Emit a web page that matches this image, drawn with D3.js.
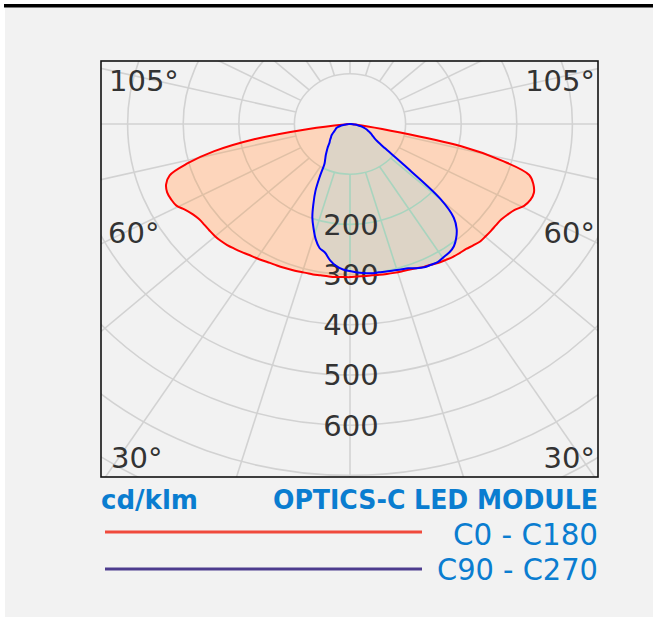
<!DOCTYPE html>
<html>
<head>
<meta charset="utf-8">
<script src="https://cdn.jsdelivr.net/npm/d3@7"></script>
<style>
  body { margin: 0; background: #fff; }
  svg { display: block; }
</style>
</head>
<body>
<div id="chart"></div>
<script>
// gamma angles (deg from nadir) and intensities in cd/klm
var gammas = [0, 2.5, 5, 7.5, 10, 12.5, 15, 17.5, 20, 22.5, 25, 27.5, 30, 32.5, 35, 37.5, 40, 42.5, 45,
              47.5, 50, 52.5, 55, 57.5, 60, 62.5, 65, 67.5, 70, 72.5, 75, 77.5, 80, 82.5, 85, 87.5, 90];
var c0 = [305, 304, 304, 304, 305, 306, 307, 308, 309, 311, 314, 316, 319, 321, 323, 324, 325, 328, 331,
          331, 331, 331, 332, 336, 342, 353, 358, 358, 351, 338, 284, 205, 0, 0, 0, 0, 0];
var c180 = [305, 305, 306, 306, 306, 307, 307, 308, 309, 310, 311, 312, 314, 316, 318, 321, 324, 327, 329,
            330, 330, 330, 331, 335, 342, 352, 355, 356, 352, 340, 302, 250, 175, 75, 10, 0, 0];
var c90 = [294, 296, 298, 300, 300, 301, 302, 304, 306, 311, 315, 316, 317, 314, 312, 307, 297, 284, 264,
           220, 125, 78, 60, 52, 47, 43, 39, 35, 32, 28, 24, 19, 14, 9, 5, 2, 0];
var c270 = [293, 290, 284, 274, 260, 253, 238, 218, 198, 172, 147, 117, 92, 83, 76, 69, 63, 57, 52,
            49, 46, 43, 41, 38, 35, 32, 30, 28, 27, 25, 22, 18, 14, 10, 5, 2, 0];

var ringValues = [100, 200, 300, 400, 500, 600, 700, 800, 900, 1000];
var ringLabels = [200, 300, 400, 500, 600];
var spokeAngles = d3.range(0, 360, 15);

var width = 653, height = 618;
var box = {left: 101, top: 61, right: 598, bottom: 477};
var cx = 350, cy = 124;
var spokeStretch = 1.2; // spokes in the original are spread a bit wider than the rings

// the diagram is a bit wider than tall, so two radius scales
var rX = d3.scaleLinear().domain([0, 100]).range([0, 55.6]),
    rY = d3.scaleLinear().domain([0, 100]).range([0, 50.2]);

function pos(g, r, side) {
    var a = g * Math.PI / 180;
    return [cx + side * rX(r) * Math.sin(a), cy + rY(r) * Math.cos(a)];
}

function spokePoint(g, scale) {
    var a = g * Math.PI / 180,
        dx = spokeStretch * Math.sin(a), dy = Math.cos(a);
    var t = 1 / Math.sqrt(Math.pow(dx / rX(100), 2) + Math.pow(dy / rY(100), 2));
    return [cx + dx * t * scale, cy + dy * t * scale];
}

function buildPoints(left, right) {
    var pts = [];
    for (var i = gammas.length - 1; i >= 0; i--) pts.push(pos(gammas[i], left[i], -1));
    for (var j = 1; j < gammas.length; j++) pts.push(pos(gammas[j], right[j], 1));
    var out = [];
    pts.forEach(p => {
        var last = out[out.length - 1];
        if (!last || Math.abs(last[0] - p[0]) > 0.01 || Math.abs(last[1] - p[1]) > 0.01) out.push(p);
    });
    var f = out[0], l = out[out.length - 1];
    if (Math.abs(f[0] - l[0]) < 0.01 && Math.abs(f[1] - l[1]) < 0.01) out.pop();
    return out;
}

var curve = d3.line().curve(d3.curveCatmullRomClosed.alpha(0.5));
var redPts = buildPoints(c180, c0),
    bluePts = buildPoints(c270, c90);

var svg = d3.select("#chart").append("svg").attr("width", width).attr("height", height);

svg.append("rect").attr("x", 5).attr("y", 7).attr("width", 648).attr("height", 610).attr("fill", "#f2f2f2");
svg.append("rect").attr("x", 4).attr("y", 4).attr("width", 649).attr("height", 3.5).attr("fill", "#000");

var defs = svg.append("defs");
defs.append("clipPath").attr("id", "boxClip").append("rect")
    .attr("x", box.left).attr("y", box.top)
    .attr("width", box.right - box.left).attr("height", box.bottom - box.top);
defs.append("clipPath").attr("id", "redClip").append("path").attr("d", curve(redPts));
defs.append("clipPath").attr("id", "blueClip").append("path").attr("d", curve(bluePts));

var plot = svg.append("g").attr("clip-path", "url(#boxClip)");

function drawGrid(g, color) {
    g.selectAll(".ring").data(ringValues).enter().append("ellipse")
        .attr("class", "ring")
        .attr("cx", cx).attr("cy", cy)
        .attr("rx", d => rX(d)).attr("ry", d => rY(d))
        .attr("fill", "none").attr("stroke", color).attr("stroke-width", 1.6);
    g.selectAll(".spoke").data(spokeAngles).enter().append("line")
        .attr("class", "spoke")
        .attr("x1", d => spokePoint(d, 1)[0]).attr("y1", d => spokePoint(d, 1)[1])
        .attr("x2", d => spokePoint(d, 14)[0]).attr("y2", d => spokePoint(d, 14)[1])
        .attr("stroke", color).attr("stroke-width", 1.6);
}

drawGrid(plot.append("g"), "#d2d2d2");

plot.append("path").attr("d", curve(redPts)).attr("fill", "#fdd5bb");
drawGrid(plot.append("g").attr("clip-path", "url(#redClip)"), "#e0c0a6");

plot.append("path").attr("d", curve(bluePts)).attr("fill", "#ddd4c6");
drawGrid(plot.append("g").attr("clip-path", "url(#blueClip)"), "#a8d4be");

// intensity labels on the nadir axis
plot.selectAll(".ringLabel").data(ringLabels).enter().append("text")
    .attr("class", "ringLabel")
    .attr("x", cx + 1).attr("y", d => cy + rY(d))
    .attr("dy", "0.36em")
    .attr("text-anchor", "middle")
    .style("font-family", "DejaVu Sans").style("font-size", "29px").style("fill", "#333")
    .text(d => d);

plot.append("path").attr("d", curve(redPts))
    .attr("fill", "none").attr("stroke", "#ff0000").attr("stroke-width", 2);
plot.append("path").attr("d", curve(bluePts))
    .attr("fill", "none").attr("stroke", "#0000ff").attr("stroke-width", 2);

// angle labels
var angleLabels = [
    {t: "105°", x: box.left + 8, y: 91, a: "start"},
    {t: "105°", x: box.right - 3, y: 91, a: "end"},
    {t: "60°", x: box.left + 7, y: 243, a: "start"},
    {t: "60°", x: box.right - 3, y: 243, a: "end"},
    {t: "30°", x: box.left + 10, y: 468, a: "start"},
    {t: "30°", x: box.right - 3, y: 468, a: "end"}
];
svg.selectAll(".angleLabel").data(angleLabels).enter().append("text")
    .attr("class", "angleLabel")
    .attr("x", d => d.x).attr("y", d => d.y)
    .attr("text-anchor", d => d.a)
    .style("font-family", "DejaVu Sans").style("font-size", "29px").style("fill", "#333")
    .text(d => d.t);

svg.append("rect")
    .attr("x", box.left).attr("y", box.top)
    .attr("width", box.right - box.left).attr("height", box.bottom - box.top)
    .attr("fill", "none").attr("stroke", "#111").attr("stroke-width", 1.6);

// legend
var blue = "#0a7dd0";
svg.append("text").attr("x", 101).attr("y", 509)
    .attr("textLength", 97).attr("lengthAdjust", "spacingAndGlyphs")
    .style("font-family", "DejaVu Sans").style("font-weight", "bold").style("font-size", "26px")
    .style("fill", blue).text("cd/klm");
svg.append("text").attr("x", 273).attr("y", 509)
    .attr("textLength", 325).attr("lengthAdjust", "spacingAndGlyphs")
    .style("font-family", "DejaVu Sans").style("font-weight", "bold").style("font-size", "27px")
    .style("fill", blue).text("OPTICS-C LED MODULE");

var legendRows = [
    {name: "C0 - C180", color: "#f04a3c", y: 532, ty: 545, x0: 453},
    {name: "C90 - C270", color: "#4d3c8e", y: 569, ty: 580, x0: 437}
];
legendRows.forEach(d => {
    svg.append("line").attr("x1", 105).attr("x2", 422).attr("y1", d.y).attr("y2", d.y)
        .attr("stroke", d.color).attr("stroke-width", 3);
    svg.append("text").attr("x", d.x0).attr("y", d.ty)
        .attr("textLength", 598 - d.x0).attr("lengthAdjust", "spacingAndGlyphs")
        .style("font-family", "DejaVu Sans").style("font-size", "31px")
        .style("fill", blue).text(d.name);
});
</script>
</body>
</html>
